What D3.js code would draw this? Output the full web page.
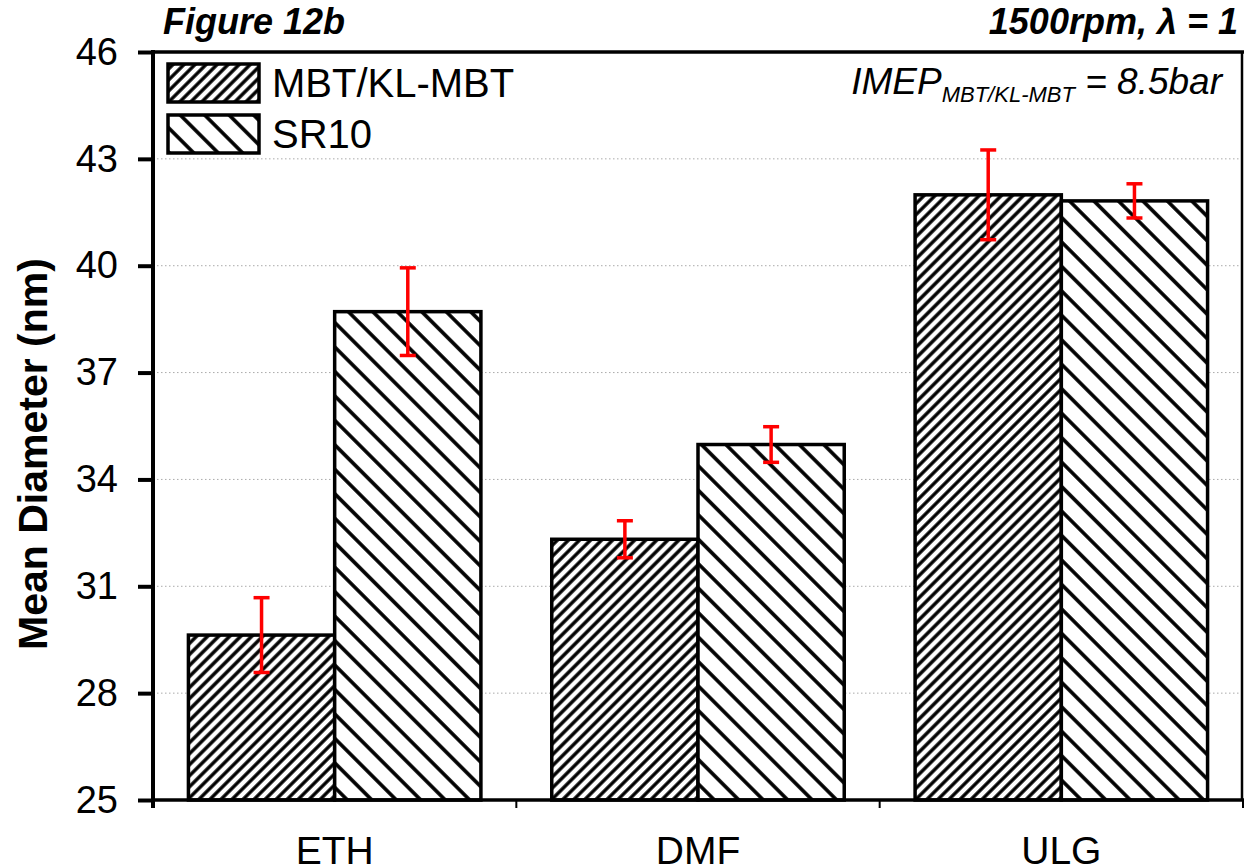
<!DOCTYPE html>
<html lang="en">
  <head>
    <meta charset="utf-8" />
    <title>Figure 12b</title>
    <script src="https://cdn.jsdelivr.net/npm/d3@7"></script>
    <style type="text/css">
      body { margin: 0; background: #fff; }
      text { font-family: "Liberation Sans", Arial, sans-serif; }
    </style>
  </head>
  <body>
    <script type="text/javascript">
      var categories = ["ETH", "DMF", "ULG"];
      var seriesNames = ["MBT/KL-MBT", "SR10"];
      var mbtValues = [29.63, 32.32, 41.99];
      var mbtErrors = [1.05, 0.52, 1.26];
      var sr10Values = [38.71, 34.98, 41.82];
      var sr10Errors = [1.23, 0.5, 0.48];
      var yTicks = [25, 28, 31, 34, 37, 40, 43, 46];

      var w = 1244;
      var h = 867;
      var plotLeft = 153, plotTop = 52, plotRight = 1243, plotBottom = 800;

      // long form rows for the bars
      var rows = [];
      categories.forEach(function (c, i) {
        rows.push({ cat: c, series: seriesNames[0], value: mbtValues[i], err: mbtErrors[i], pat: "hatchA" });
        rows.push({ cat: c, series: seriesNames[1], value: sr10Values[i], err: sr10Errors[i], pat: "hatchB" });
      });

      var xScale = d3.scaleBand()
        .domain(categories)
        .range([plotLeft, plotRight])
        .paddingInner(0.195)
        .paddingOuter(0.0975);

      var xSub = d3.scaleBand()
        .domain(seriesNames)
        .range([0, xScale.bandwidth()]);

      var yScale = d3.scaleLinear()
        .domain([25, 46])
        .range([plotBottom, plotTop]);

      var svg = d3.select("body")
        .append("svg")
        .attr("width", w)
        .attr("height", h);

      var defs = svg.append("defs");
      function hatch(id, gap, sw, angle) {
        var p = defs.append("pattern")
          .attr("id", id)
          .attr("patternUnits", "userSpaceOnUse")
          .attr("width", gap)
          .attr("height", gap)
          .attr("patternTransform", "rotate(" + angle + ")");
        p.append("rect").attr("width", gap).attr("height", gap).attr("fill", "#fff");
        p.append("line")
          .attr("x1", gap / 2).attr("x2", gap / 2)
          .attr("y1", 0).attr("y2", gap)
          .attr("stroke", "#000")
          .attr("stroke-width", sw);
      }
      hatch("hatchA", 7.8, 3.4, 45);
      hatch("hatchB", 17.3, 3.6, -45);

      // dotted grid
      svg.selectAll("line.grid")
        .data(yTicks.filter(function (d) { return d > 25 && d < 46; }))
        .enter()
        .append("line")
        .attr("class", "grid")
        .attr("x1", plotLeft).attr("x2", plotRight)
        .attr("y1", function (d) { return yScale(d); })
        .attr("y2", function (d) { return yScale(d); })
        .attr("stroke", "#aaa")
        .attr("stroke-width", 1)
        .attr("stroke-dasharray", "1.5,2.5");

      // bars
      svg.selectAll("rect.bar")
        .data(rows)
        .enter()
        .append("rect")
        .attr("class", "bar")
        .attr("x", function (d) { return xScale(d.cat) + xSub(d.series); })
        .attr("y", function (d) { return yScale(d.value); })
        .attr("width", xSub.bandwidth())
        .attr("height", function (d) { return plotBottom - yScale(d.value); })
        .attr("fill", function (d) { return "url(#" + d.pat + ")"; })
        .attr("stroke", "#000")
        .attr("stroke-width", 3.5);

      // error bars
      var eb = svg.selectAll("g.err")
        .data(rows)
        .enter()
        .append("g")
        .attr("class", "err")
        .attr("stroke", "#ff0000")
        .attr("stroke-width", 3.5);
      function cx(d) { return xScale(d.cat) + xSub(d.series) + xSub.bandwidth() / 2; }
      eb.append("line")
        .attr("x1", cx).attr("x2", cx)
        .attr("y1", function (d) { return yScale(d.value + d.err); })
        .attr("y2", function (d) { return yScale(d.value - d.err); });
      [1, -1].forEach(function (s) {
        eb.append("line")
          .attr("x1", function (d) { return cx(d) - 8; })
          .attr("x2", function (d) { return cx(d) + 8; })
          .attr("y1", function (d) { return yScale(d.value + s * d.err); })
          .attr("y2", function (d) { return yScale(d.value + s * d.err); });
      });

      // frame: top and right
      svg.append("line")
        .attr("x1", plotLeft).attr("x2", w).attr("y1", plotTop).attr("y2", plotTop)
        .attr("stroke", "#000").attr("stroke-width", 3.5);
      svg.append("line")
        .attr("x1", plotRight - 1).attr("x2", plotRight - 1).attr("y1", plotTop).attr("y2", plotBottom)
        .attr("stroke", "#000").attr("stroke-width", 2.5);

      // y axis
      var yAxis = d3.axisLeft(yScale)
        .tickValues(yTicks)
        .tickSize(15)
        .tickPadding(20);
      var gy = svg.append("g")
        .attr("transform", "translate(" + plotLeft + ",0)")
        .call(yAxis);
      gy.select(".domain").remove();
      gy.selectAll(".tick line").attr("stroke-width", 4);
      gy.selectAll(".tick text")
        .attr("font-size", 38)
        .attr("fill", "#000")
        .attr("font-family", "Liberation Sans, Arial, sans-serif");
      svg.append("line")
        .attr("x1", plotLeft).attr("x2", plotLeft).attr("y1", plotTop - 2).attr("y2", plotBottom + 8)
        .attr("stroke", "#000").attr("stroke-width", 4);

      // x axis
      var step = xScale.step();
      var xTicks = d3.range(categories.length + 1).map(function (i) { return plotLeft + i * step; });
      svg.selectAll("line.xtick")
        .data(xTicks)
        .enter()
        .append("line")
        .attr("class", "xtick")
        .attr("x1", function (d) { return d; })
        .attr("x2", function (d) { return d; })
        .attr("y1", plotBottom).attr("y2", plotBottom + 8)
        .attr("stroke", "#000").attr("stroke-width", 2);
      svg.append("line")
        .attr("x1", plotLeft).attr("x2", w).attr("y1", plotBottom).attr("y2", plotBottom)
        .attr("stroke", "#000").attr("stroke-width", 3.5);
      svg.selectAll("text.cat")
        .data(categories)
        .enter()
        .append("text")
        .attr("class", "cat")
        .attr("x", function (d) { return xScale(d) + xScale.bandwidth() / 2; })
        .attr("y", 864)
        .attr("text-anchor", "middle")
        .attr("font-size", 39)
        .text(function (d) { return d; });

      // y label
      svg.append("text")
        .attr("transform", "translate(47,454) rotate(-90)")
        .attr("text-anchor", "middle")
        .attr("font-size", 41)
        .attr("font-weight", "bold")
        .text("Mean Diameter (nm)");

      // titles
      svg.append("text")
        .attr("x", 163).attr("y", 34)
        .attr("font-size", 36)
        .attr("font-weight", "bold")
        .attr("font-style", "italic")
        .text("Figure 12b");
      svg.append("text")
        .attr("x", 1238).attr("y", 34)
        .attr("text-anchor", "end")
        .attr("font-size", 36)
        .attr("font-weight", "bold")
        .attr("font-style", "italic")
        .text("1500rpm, \u03bb = 1");

      var imep = svg.append("text")
        .attr("x", 1222).attr("y", 94)
        .attr("text-anchor", "end")
        .attr("font-size", 37)
        .attr("font-style", "italic");
      imep.append("tspan").text("IMEP");
      imep.append("tspan").attr("font-size", 22).attr("dy", 8).text("MBT/KL-MBT");
      imep.append("tspan").attr("dy", -8).text(" = 8.5bar");

      // legend
      var legend = svg.selectAll("g.legend")
        .data(seriesNames)
        .enter()
        .append("g")
        .attr("class", "legend")
        .attr("transform", function (d, i) { return "translate(168," + (64 + i * 51) + ")"; });
      legend.append("rect")
        .attr("width", 91).attr("height", 38)
        .attr("fill", function (d, i) { return i === 0 ? "url(#hatchA)" : "url(#hatchB)"; })
        .attr("stroke", "#000")
        .attr("stroke-width", 3.5);
      legend.append("text")
        .attr("x", 104).attr("y", 33)
        .attr("font-size", 40)
        .text(function (d) { return d; });
    </script>
  </body>
</html>
